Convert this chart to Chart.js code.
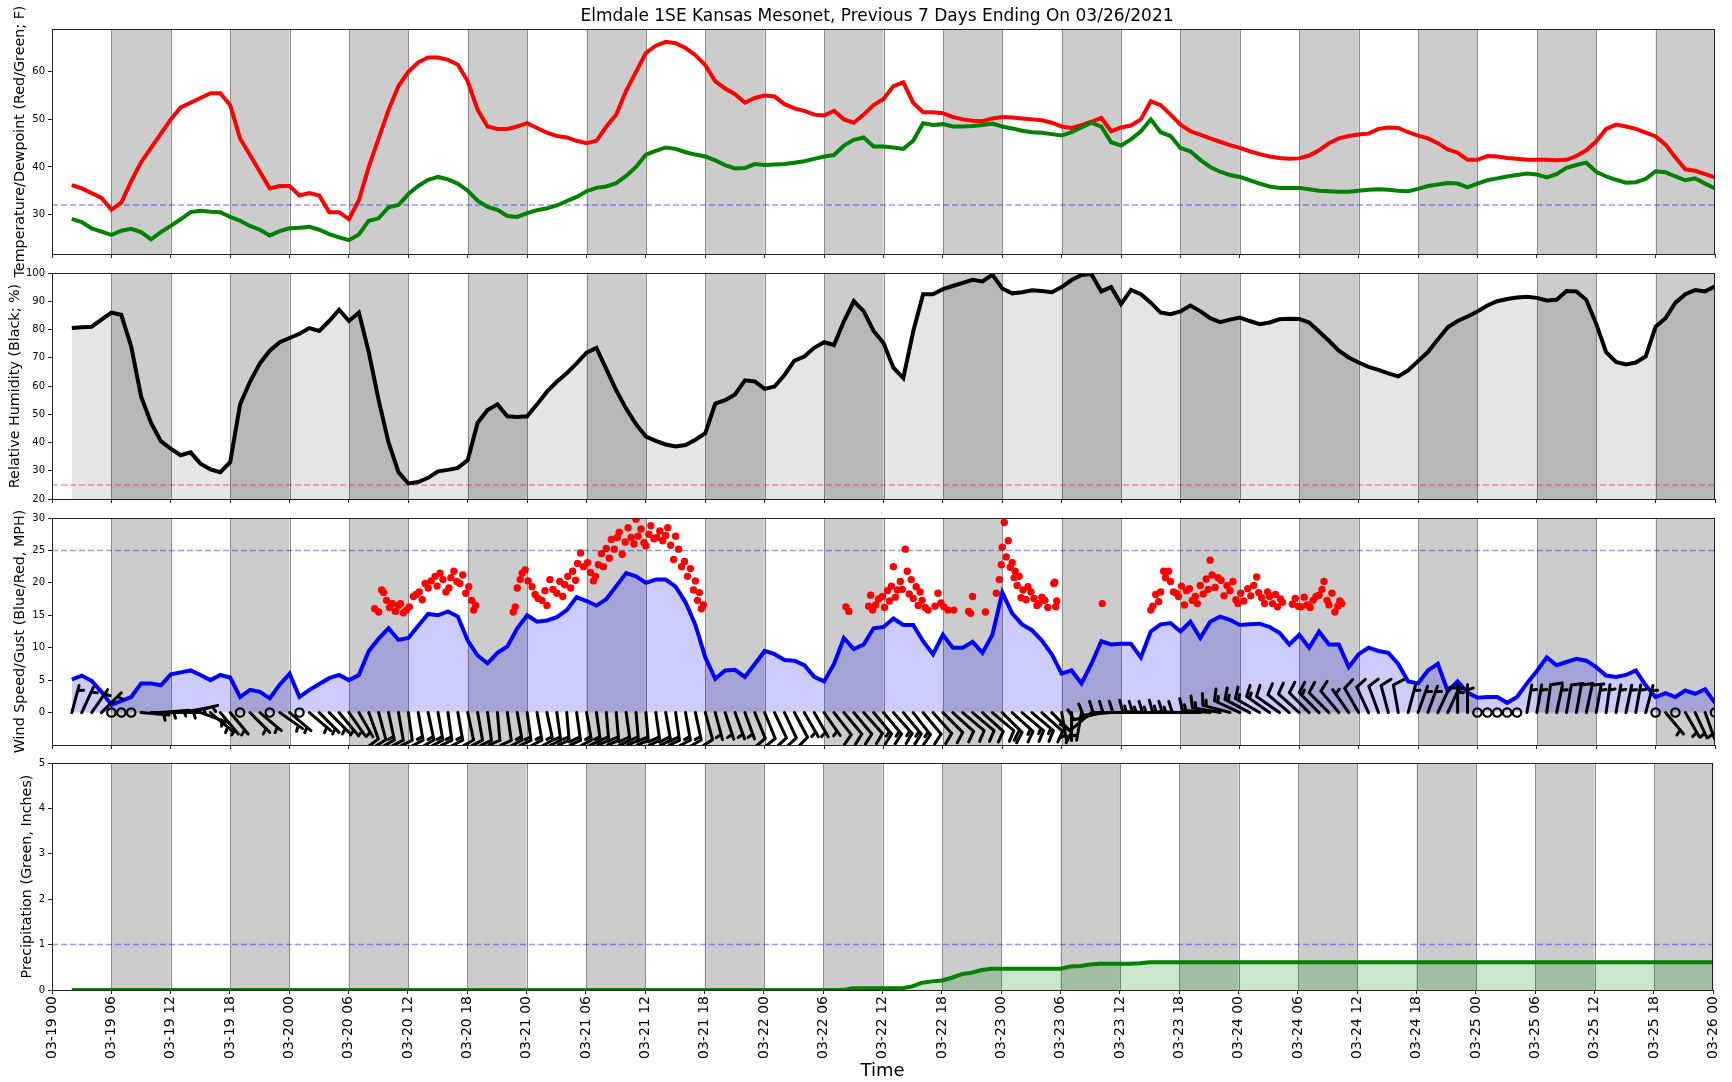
<!DOCTYPE html>
<html>
<head>
<meta charset="utf-8">
<script src="https://cdn.jsdelivr.net/npm/chart.js@4.4.1/dist/chart.umd.min.js"></script>
<style>
  body { margin: 0; background: #fff; }
  #wrap { position: relative; width: 1732px; height: 1082px; overflow: hidden; }
  #wrap canvas { position: absolute; left: 0; top: 0; }
  #title {
    position: absolute; left: 52px; width: 1650px; top: 5px;
    text-align: center; font: 17px "DejaVu Sans", sans-serif; color: #000;
  }
</style>
</head>
<body>
<div id="wrap">
  <canvas id="tempChart" width="1732" height="1082"></canvas>
  <canvas id="rhChart" width="1732" height="1082"></canvas>
  <canvas id="windChart" width="1732" height="1082"></canvas>
  <canvas id="rainChart" width="1732" height="1082"></canvas>
  <div id="title">Elmdale 1SE Kansas Mesonet, Previous 7 Days Ending On 03/26/2021</div>
</div>
<script>
// hourly readings, index = hours since 03-19 00
const timeLabels = ['03-19 00', '03-19 06', '03-19 12', '03-19 18', '03-20 00', '03-20 06', '03-20 12', '03-20 18',
  '03-21 00', '03-21 06', '03-21 12', '03-21 18', '03-22 00', '03-22 06', '03-22 12', '03-22 18',
  '03-23 00', '03-23 06', '03-23 12', '03-23 18', '03-24 00', '03-24 06', '03-24 12', '03-24 18',
  '03-25 00', '03-25 06', '03-25 12', '03-25 18', '03-26 00'];

const temperature = [
  null, null, 36.2, 35.5, 34.5, 33.5,
  31, 32.5, 37, 41, 44, 47,
  50, 52.5, 53.5, 54.5, 55.5, 55.5,
  53, 46, 42.5, 39, 35.5, 36,
  36, 34, 34.5, 34, 30.5, 30.5,
  29, 33, 40, 46, 52, 57,
  60, 62, 63, 63, 62.5, 61.5,
  58, 52, 48.5, 48, 48, 48.5,
  49.2, 48.2, 47.2, 46.5, 46.2, 45.5,
  45, 45.5, 48.5, 51, 56, 60,
  64, 65.5, 66.3, 66, 65, 63.5,
  61.4, 58, 56.5, 55.3, 53.5, 54.5,
  55, 54.8, 53.2, 52.3, 51.8, 51,
  50.8, 51.8, 50, 49.3, 51, 53,
  54.3, 57, 57.8, 53.5, 51.5, 51.5,
  51.3, 50.5, 50, 49.7, 49.6, 50.2,
  50.5, 50.4, 50.2, 50, 49.8, 49.3,
  48.5, 48.2, 48.8, 49.5, 50.3, 47.5,
  48.3, 48.7, 50, 53.8, 53, 51,
  48.9, 47.5, 46.8, 46, 45.3, 44.6,
  44, 43.3, 42.7, 42.2, 41.9, 41.7,
  41.8, 42.4, 43.5, 45, 46, 46.5,
  46.8, 47, 48, 48.3, 48.2, 47.3,
  46.6, 46, 45, 43.7, 43, 41.5,
  41.5, 42.3, 42.2, 41.9, 41.7, 41.5,
  41.5, 41.5, 41.4, 41.5, 42.3, 43.5,
  45.4, 48, 48.9, 48.5, 48, 47.2,
  46.4, 44.7, 42, 39.5, 39.2, 38.5,
  37.8
];

const dewpoint = [
  null, null, 29.1, 28.4, 27.1, 26.4,
  25.7, 26.6, 27, 26.3, 24.8, 26.3,
  27.6, 29, 30.5, 30.8, 30.6, 30.5,
  29.5, 28.7, 27.6, 26.8, 25.6, 26.5,
  27.1, 27.2, 27.4, 26.8, 25.9, 25.2,
  24.6, 25.8, 28.7, 29.2, 31.5, 32,
  34.3, 36, 37.3, 37.9, 37.4, 36.5,
  35, 32.9, 31.6, 31, 29.7, 29.5,
  30.3, 30.9, 31.3, 31.9, 32.8, 33.7,
  34.9, 35.6, 35.9, 36.6, 38.1, 40,
  42.6, 43.4, 44.1, 43.8, 43.1, 42.6,
  42.2, 41.4, 40.4, 39.7, 39.8, 40.6,
  40.4, 40.5, 40.6, 40.9, 41.2, 41.7,
  42.2, 42.5, 44.5, 45.7, 46.2, 44.3,
  44.3, 44.1, 43.8, 45.5, 49.2, 48.8,
  49, 48.5, 48.5, 48.6, 48.8, 49.1,
  48.5, 48.1, 47.6, 47.3, 47.2, 46.9,
  46.6, 47.3, 48.3, 49.3, 48.5, 45.2,
  44.5, 45.8, 47.5, 50, 47.3, 46.5,
  44, 43.3, 41.5, 40, 39, 38.3,
  37.9, 37.2, 36.5, 35.9, 35.6, 35.6,
  35.6, 35.3, 35, 34.9, 34.8, 34.8,
  35, 35.2, 35.3, 35.2, 35, 34.9,
  35.4, 36, 36.3, 36.6, 36.5, 35.7,
  36.5, 37.2, 37.6, 38, 38.3, 38.6,
  38.4, 37.8, 38.5, 39.8, 40.4, 40.9,
  39, 38, 37.3, 36.7, 36.8, 37.5,
  39.1, 38.9, 38, 37.2, 37.6, 36.5,
  35.5
];

const humidity = [
  null, null, 80.5, 80.8, 81, 83.5,
  86, 85.2, 74, 56.3, 47, 40.5,
  37.8, 35.5, 36.5, 32.5, 30.5, 29.5,
  33, 53.5, 61.5, 68, 72.5, 75.5,
  77, 78.5, 80.5, 79.5, 83, 87,
  83, 86, 72, 55, 40, 29.5,
  25.5, 26, 27.5, 29.8, 30.3, 31,
  33.8, 47, 51.5, 53.5, 49.3, 49,
  49.3, 53.5, 58, 61.5, 64.5, 68,
  71.8, 73.5, 66, 58.5, 52, 46.5,
  42.1, 40.6, 39.3, 38.6, 39.1, 41,
  43.3, 53.8, 55, 57, 62, 61.6,
  59, 59.8, 63.9, 69, 70.4, 73.5,
  75.5, 74.5, 82.9, 90, 86.5, 79.5,
  75.2, 66.5, 62.8, 79.3, 92.5, 92.5,
  94.3, 95.4, 96.5, 97.6, 97, 99.4,
  94.5, 92.8, 93.2, 93.9, 93.6, 93.2,
  95, 97.5, 99.3, 99.6, 93.5, 95,
  89, 94, 92.5, 89.5, 86, 85.4,
  86.4, 88.5, 86.5, 84, 82.6, 83.5,
  84.2, 83, 81.9, 82.5, 83.6, 83.8,
  83.7, 82.5, 79.3, 76, 72.5, 70.1,
  68.3, 66.8, 65.7, 64.5, 63.4, 65.5,
  68.8, 72, 76.5, 80.8, 83, 84.6,
  86.4, 88.5, 90, 90.8, 91.3, 91.6,
  91.2, 90.3, 90.5, 93.6, 93.5, 90.5,
  82, 72, 68.5, 67.6, 68.3, 70.5,
  81, 84, 89.5, 92.5, 94, 93.5,
  95.3
];

const windSpeed = [
  null, null, 5.1, 5.7, 4.9, 3.2,
  1.2, 1.8, 2.4, 4.5, 4.5, 4.2,
  5.9, 6.2, 6.5, 5.8, 5, 5.8,
  5.4, 2.4, 3.5, 3.2, 2.2, 4.3,
  6, 2.4, 3.5, 4.4, 5.3, 5.8,
  5, 5.8, 9.5, 11.4, 13, 11.2,
  11.5, 13.4, 15.2, 15, 15.6, 14.8,
  11.1, 8.8, 7.6, 9.2, 10.2, 13,
  15, 14, 14.2, 14.7, 15.8, 17.8,
  17.2, 16.5, 17.5, 19.5, 21.5, 21,
  20, 20.5, 20.5, 19.4, 17, 13.5,
  8.5, 5.2, 6.5, 6.6, 5.5, 7.5,
  9.5, 9, 8.1, 8, 7.3, 5.5,
  4.8, 7.5, 11.5, 9.8, 10.5, 13,
  13.2, 14.5, 13.5, 13.5, 11, 9,
  12, 10, 10, 10.9, 9.2, 12,
  18.5, 15.3, 13.6, 12.7, 11.1, 9,
  6, 6.5, 4.5, 7.5, 11, 10.5,
  10.6, 10.6, 8.5, 12.5, 13.6, 13.8,
  12.5, 14, 11.5, 14, 14.8, 14.3,
  13.5, 13.6, 13.7, 13.2, 12.3, 10.5,
  12, 10, 12.5, 10.5, 10.5, 7,
  9, 10, 9.5, 9.2, 7.5, 4.8,
  4.5, 6.5, 7.5, 3.3, 4.8, 3.1,
  2.3, 2.4, 2.4, 1.5, 2.4, 4.5,
  6.4, 8.5, 7.3, 7.8, 8.3, 8,
  7, 5.7, 5.5, 5.8, 6.5, 4.2,
  2.4, 3, 2.4, 3.4, 2.9, 3.6,
  1.5
];

// direction the wind blows from, degrees
const windDir = [
  null, null, 15, 25, 35, 45,
  0, 0, 0, 95, 90, 85,
  90, 80, 75, 110, 130, 140,
  140, 140, 135, 130, 130, 125,
  130, 130, 130, 135, 135, 140,
  145, 150, 160, 165, 168, 170,
  172, 170, 168, 170, 172, 170,
  168, 170, 172, 175, 172, 170,
  172, 170, 168, 172, 175, 172,
  170, 172, 175, 175, 172, 175,
  175, 172, 170, 172, 170, 168,
  165, 165, 162, 160, 160, 158,
  158, 155, 155, 152, 150, 150,
  145, 142, 140, 140, 138, 140,
  140, 138, 140, 142, 140, 138,
  135, 132, 130, 130, 132, 130,
  135, 132, 130, 130, 132, 135,
  170, 180, 190, 230, 255, 265,
  270, 270, 270, 272, 270, 270,
  272, 270, 270, 275, 280, 285,
  295, 298, 300, 305, 305, 310,
  312, 315, 315, 315, 320, 325,
  330, 335, 340, 345, 350, 15,
  20, 20, 25, 25, 0, 0,
  0, 0, 0, 0, 0, 10,
  10, 8, 12, 10, 10, 12,
  10, 8, 10, 12, 10, 15,
  0, 140, 150, 150, 155, 160,
  0
];

const gustHours = [
  32.6, 33.0, 33.3, 33.5, 33.8, 34.1, 34.4, 34.7, 35.0, 35.2, 35.5, 35.8, 36.1, 36.5, 36.8, 37.1, 37.4, 37.7,
  38.0, 38.3, 38.7, 38.9, 39.2, 39.5, 39.8, 40.1, 40.3, 40.6, 40.9, 41.2, 41.5, 41.8, 42.1, 42.4, 42.6, 42.8,
  46.6, 46.8, 47.0, 47.3, 47.5, 47.8, 48.1, 48.5, 48.8, 49.1, 49.5, 49.8, 50.0, 50.3, 50.6, 51.0, 51.3, 51.6,
  51.8, 52.1, 52.4, 52.6, 52.9, 53.1, 53.4, 53.7, 54.1, 54.4, 54.7, 54.9, 55.2, 55.5, 55.7, 56.0, 56.3, 56.5,
  56.8, 57.1, 57.3, 57.6, 57.9, 58.2, 58.5, 58.8, 59.0, 59.2, 59.5, 59.8, 60.0, 60.3, 60.5, 60.8, 61.1, 61.4,
  61.7, 62.0, 62.2, 62.5, 62.8, 63.0, 63.3, 63.6, 63.9, 64.2, 64.5, 64.8, 65.0, 65.2, 65.4, 65.6, 65.8,
  80.2, 80.5, 82.5, 82.7, 82.9, 83.2, 83.5, 83.9, 84.1, 84.4, 84.6, 84.8, 85.0, 85.2, 85.4, 85.7, 85.9, 86.2,
  86.4, 86.6, 86.8, 87.0, 87.3, 87.5, 87.7, 87.9, 88.2, 88.5, 89.2, 89.5, 89.8, 90.1, 90.5, 91.1, 92.6, 92.8,
  93.0, 94.3,
  95.4, 95.7, 95.9, 96.0, 96.2, 96.4, 96.6, 96.8, 97.0, 97.2, 97.3, 97.5, 97.7, 97.9, 98.1, 98.4, 98.6, 98.9,
  99.2, 99.5, 99.7, 100.0, 100.3, 100.6, 101.2, 101.3, 101.4, 101.5, 106.1,
  111.0, 111.2, 111.5, 111.8, 112.0, 112.3, 112.5, 112.8, 113.0, 113.3, 113.6, 113.8, 114.1, 114.4, 114.6,
  114.9, 115.2, 115.5, 115.7, 116.0, 116.3, 116.6, 116.8, 117.0, 117.2, 117.5, 117.8, 118.1, 118.4, 118.7,
  119.0, 119.3, 119.6, 119.8, 120.1, 120.4, 120.8, 121.1, 121.4, 121.7, 121.9, 122.2, 122.5, 122.8, 123.0,
  123.3, 123.6, 123.8, 124.1, 124.3, 125.3, 125.6, 125.9, 126.2, 126.5, 126.8, 127.1, 127.4, 127.7, 128.0,
  128.3, 128.5, 128.8, 129.0, 129.3, 129.6, 129.9, 130.1, 130.3
];

const gustMph = [
  16, 15.5, 18.9, 18.5, 17.3, 16.2, 16.8, 15.6, 16.5, 16.8, 15.4, 15.8, 16.3, 17.9, 18.2, 18.6, 17.4, 19.9,
  19.2, 20.3, 21, 19.5, 21.5, 20.5, 18.6, 19.2, 20.8, 21.8, 20.2, 19.9, 21.2, 18.4, 19.4, 17.3, 15.8, 16.5,
  15.5, 16.3, 19.2, 20.5, 21.5, 22, 20.3, 19.4, 18.2, 17.6, 17.3, 18.8, 16.5, 20.5, 19, 18.4, 20.2, 17.9,
  19.7, 21, 19.2, 21.8, 20.4, 23, 24.6, 22.5, 23.1, 21.6, 20.3, 21, 22.8, 24.5, 22.5, 25.3, 23.8, 26.7,
  25.2, 27, 27.8, 24.4, 26.3, 28.5, 27, 26, 29.8, 27.2, 28.3, 26.2, 25.7, 27.5, 28.8, 26.8, 27, 28,
  26.5, 27.3, 28.5, 25.8, 23.6, 27.2, 25.2, 22.5, 23.3, 21, 22.2, 18.9, 20.3, 17.3, 18.5, 16, 16.6,
  16.3, 15.6, 16.4, 18.1, 15.8, 16.6, 17.5, 17.9, 16.2, 18.8, 17.2, 19.5, 22.5, 17.8, 18.9, 20.2, 19, 25.2,
  21.8, 18.3, 20.5, 17.6, 19.4, 16.5, 18.6, 17.3, 16.2, 15.8, 16.4, 18.4, 16.9, 16.3, 15.8, 15.8, 15.6, 15.3,
  17.9, 15.5,
  18.4, 20.5, 22.8, 25.5, 29.3, 24, 26.5, 22.4, 23.1, 20.8, 21.8, 19.6, 21, 17.7, 18.9, 17.4, 19.4, 18.6,
  17.6, 16.5, 16.8, 17.8, 17.3, 16.2, 19.9, 20.1, 16.3, 17.2, 16.8,
  15.8, 16.4, 18.2, 17.1, 18.6, 21.8, 20.8, 21.8, 20.2, 18.6, 18.4, 17.9, 19.5, 16.6, 18.8,
  19.1, 17.3, 17.9, 16.8, 19.6, 18.3, 20.6, 19, 23.5, 21.2, 19.3, 20.8, 20.4, 18, 19.6,
  18.8, 20.2, 17.4, 16.8, 18.4, 17.2, 19.1, 18, 19.6, 20.9, 18.5, 17.7, 16.8, 18.6, 17.9,
  16.8, 18.2, 16.3, 17.5, 17, 16.7, 17.6, 16.4, 16.3, 17.8, 16.6, 16.2, 17.3, 17.9, 18.1,
  19, 20.2, 17.3, 16.6, 18.4, 15.5, 16.4, 17.2, 16.8
];

const precipTotal = [
  null, null, 0, 0, 0, 0,
  0, 0, 0, 0, 0, 0,
  0, 0, 0, 0, 0, 0,
  0, 0, 0, 0, 0, 0,
  0, 0, 0, 0, 0, 0,
  0, 0, 0, 0, 0, 0,
  0, 0, 0, 0, 0, 0,
  0, 0, 0, 0, 0, 0,
  0, 0, 0, 0, 0, 0,
  0, 0, 0, 0, 0, 0,
  0, 0, 0, 0, 0, 0,
  0, 0, 0, 0, 0, 0,
  0, 0, 0, 0, 0, 0,
  0, 0, 0, 0.04, 0.04, 0.04,
  0.04, 0.04, 0.04, 0.08, 0.16, 0.19,
  0.21, 0.27, 0.35, 0.38, 0.44, 0.47,
  0.47, 0.47, 0.47, 0.47, 0.47, 0.47,
  0.47, 0.52, 0.53, 0.56, 0.58, 0.58,
  0.58, 0.58, 0.59, 0.61, 0.61, 0.61,
  0.61, 0.61, 0.61, 0.61, 0.61, 0.61,
  0.61, 0.61, 0.61, 0.61, 0.61, 0.61,
  0.61, 0.61, 0.61, 0.61, 0.61, 0.61,
  0.61, 0.61, 0.61, 0.61, 0.61, 0.61,
  0.61, 0.61, 0.61, 0.61, 0.61, 0.61,
  0.61, 0.61, 0.61, 0.61, 0.61, 0.61,
  0.61, 0.61, 0.61, 0.61, 0.61, 0.61,
  0.61, 0.61, 0.61, 0.61, 0.61, 0.61,
  0.61, 0.61, 0.61, 0.61, 0.61, 0.61,
  0.61
];

const tempTicks = [30, 40, 50, 60];
const humidityTicks = [20, 30, 40, 50, 60, 70, 80, 90, 100];
const windTicks = [0, 5, 10, 15, 20, 25, 30];
const precipTicks = [0, 1, 2, 3, 4, 5];

const freezeLine = 32;
const dryLine = 25;
const windLine = 25;
const rainLine = 1;

// layout
const FONT = '"DejaVu Sans", sans-serif';
const W = 1732, H = 1082, LEFT = 52, RIGHT = 1715;
const hourTicks = timeLabels.map((_, i) => i * 6);

const series = arr => arr.map((v, i) => ({ x: i, y: v }));

const bandsPlugin = {
  id: 'bands',
  beforeDatasetsDraw(chart, args, opts) {
    const { ctx, chartArea: a, scales: { x, y } } = chart;
    ctx.save();
    ctx.beginPath();
    ctx.rect(a.left, a.top, a.right - a.left, a.bottom - a.top);
    ctx.clip();
    // gray for 06-12 and 18-24 of each day
    ctx.fillStyle = '#cccccc';
    for (let h = 6; h < 168; h += 12) {
      const x0 = x.getPixelForValue(h), x1 = x.getPixelForValue(h + 6);
      ctx.fillRect(x0, a.top, x1 - x0, a.bottom - a.top);
    }
    ctx.strokeStyle = '#8c8c8c';
    ctx.lineWidth = 1;
    hourTicks.forEach(h => {
      const px = Math.round(x.getPixelForValue(h)) + 0.5;
      ctx.beginPath();
      ctx.moveTo(px, a.top);
      ctx.lineTo(px, a.bottom);
      ctx.stroke();
    });
    if (opts.refValue !== undefined) {
      const py = y.getPixelForValue(opts.refValue);
      ctx.strokeStyle = opts.refColor;
      ctx.lineWidth = 1.5;
      ctx.setLineDash([6, 3]);
      ctx.beginPath();
      ctx.moveTo(a.left, py);
      ctx.lineTo(a.right, py);
      ctx.stroke();
    }
    ctx.restore();
  }
};

const framePlugin = {
  id: 'frame',
  afterDraw(chart) {
    const { ctx, chartArea: a } = chart;
    ctx.save();
    ctx.strokeStyle = '#222';
    ctx.lineWidth = 1;
    ctx.strokeRect(Math.round(a.left) + 0.5, Math.round(a.top) + 0.5,
      Math.round(a.right - a.left) - 1, Math.round(a.bottom - a.top));
    ctx.restore();
  }
};

const barbPlugin = {
  id: 'barbs',
  afterDatasetsDraw(chart) {
    const { ctx, chartArea: a, scales: { x, y } } = chart;
    const L = 28, sp = 0.125 * L;
    ctx.save();
    ctx.beginPath();
    ctx.rect(a.left, a.top, a.right - a.left, a.bottom - a.top);
    ctx.clip();
    ctx.strokeStyle = '#000';
    ctx.lineJoin = 'round';
    ctx.lineCap = 'round';
    windDir.forEach((dir, h) => {
      const spd = windSpeed[h];
      if (dir === null || spd === null) return;
      const bx = x.getPixelForValue(h), by = y.getPixelForValue(0);
      const r = Math.round(spd / 5) * 5;
      if (r < 5) {
        ctx.beginPath();
        ctx.arc(bx, by, 0.15 * L, 0, Math.PI * 2);
        ctx.lineWidth = 2.2;
        ctx.stroke();
        return;
      }
      const t = dir * Math.PI / 180;
      const dx = Math.sin(t), dy = -Math.cos(t);
      const px = Math.cos(t), py = Math.sin(t);
      const full = Math.floor((r % 50) / 10);
      const half = (r % 10) >= 5;
      ctx.lineWidth = 3;
      ctx.beginPath();
      ctx.moveTo(bx, by);
      ctx.lineTo(bx + L * dx, by + L * dy);
      let pos = L;
      for (let i = 0; i < full; i++) {
        const sx = bx + pos * dx, sy = by + pos * dy;
        ctx.moveTo(sx, sy);
        ctx.lineTo(sx + 0.4 * L * px + 0.125 * L * dx, sy + 0.4 * L * py + 0.125 * L * dy);
        pos -= sp;
      }
      if (half) {
        if (pos === L) pos -= 1.5 * sp;
        const sx = bx + pos * dx, sy = by + pos * dy;
        ctx.moveTo(sx, sy);
        ctx.lineTo(sx + 0.2 * L * px + 0.0625 * L * dx, sy + 0.2 * L * py + 0.0625 * L * dy);
      }
      ctx.stroke();
    });
    ctx.restore();
  }
};

function makePanel(id, box, datasets, y, extraPlugins, refOpts) {
  const bottomAxis = !!box.bottomAxis;
  const xHeight = bottomAxis ? H - box.bottom : 4;
  return new Chart(document.getElementById(id), {
    type: 'line',
    data: { datasets },
    options: {
      responsive: false,
      animation: false,
      events: [],
      layout: {
        padding: { left: 0, right: W - RIGHT, top: box.top, bottom: bottomAxis ? 0 : H - box.bottom - xHeight }
      },
      elements: { point: { radius: 0 }, line: { tension: 0 } },
      plugins: {
        legend: { display: false },
        tooltip: { enabled: false },
        bands: refOpts
      },
      scales: {
        x: {
          type: 'linear', min: 0, max: 168,
          afterBuildTicks: s => { s.ticks = hourTicks.map(v => ({ value: v })); },
          afterFit: s => { s.height = xHeight; },
          border: { display: false },
          grid: { drawOnChartArea: false, drawTicks: true, tickLength: 4, color: '#222' },
          ticks: {
            display: bottomAxis, autoSkip: false, minRotation: 90, maxRotation: 90, padding: 2,
            color: '#000', font: { family: FONT, size: 14 },
            callback: v => timeLabels[Math.round(v / 6)]
          },
          title: { display: bottomAxis, text: 'Time', color: '#000', font: { family: FONT, size: 18 }, padding: 0 }
        },
        y: {
          min: y.min, max: y.max,
          afterBuildTicks: s => { s.ticks = y.ticks.map(v => ({ value: v })); },
          afterFit: s => { s.width = LEFT; },
          border: { display: false },
          grid: { drawOnChartArea: false, drawTicks: true, tickLength: 4, color: '#222' },
          ticks: { padding: 3, color: '#000', font: { family: FONT, size: 10 } },
          title: {
            display: true, text: y.title, color: '#000',
            font: { family: FONT, size: 14.3 }, padding: { top: y.titlePad, bottom: 0 }
          }
        }
      }
    },
    plugins: [bandsPlugin, framePlugin].concat(extraPlugins)
  });
}

makePanel('tempChart', { top: 29, bottom: 254 }, [
  { data: series(dewpoint), borderColor: '#008000', borderWidth: 4 },
  { data: series(temperature), borderColor: '#ff0000', borderWidth: 4 }
], { min: 21.7, max: 69, ticks: tempTicks, title: 'Temperature/Dewpoint (Red/Green; F)', titlePad: 11.4 },
  [], { refValue: freezeLine, refColor: 'rgba(0,0,255,0.4)' });

makePanel('rhChart', { top: 273, bottom: 499 }, [
  { data: series(humidity), borderColor: '#000', borderWidth: 4, fill: 'start', backgroundColor: 'rgba(0,0,0,0.1)' }
], { min: 20, max: 100, ticks: humidityTicks, title: 'Relative Humidity (Black; %)', titlePad: 6.9 },
  [], { refValue: dryLine, refColor: 'rgba(255,0,0,0.4)' });

makePanel('windChart', { top: 518, bottom: 745 }, [
  { type: 'scatter', data: gustHours.map((h, i) => ({ x: h, y: gustMph[i] })),
    pointRadius: 3.7, pointBackgroundColor: '#ff0000', pointBorderWidth: 0, showLine: false },
  { data: series(windSpeed), borderColor: '#0000ff', borderWidth: 4, fill: 'origin', backgroundColor: 'rgba(0,0,255,0.2)' }
], { min: -5, max: 30, ticks: windTicks, title: 'Wind Speed/Gust (Blue/Red, MPH)', titlePad: 11.4 },
  [barbPlugin], { refValue: windLine, refColor: 'rgba(0,0,255,0.4)' });

makePanel('rainChart', { top: 763, bottom: 990, bottomAxis: true }, [
  { data: series(precipTotal), borderColor: '#008000', borderWidth: 4, fill: 'start', backgroundColor: 'rgba(0,128,0,0.2)' }
], { min: 0, max: 5, ticks: precipTicks, title: 'Precipitation (Green, Inches)', titlePad: 19 },
  [], { refValue: rainLine, refColor: 'rgba(0,0,255,0.4)' });
</script>
</body>
</html>
